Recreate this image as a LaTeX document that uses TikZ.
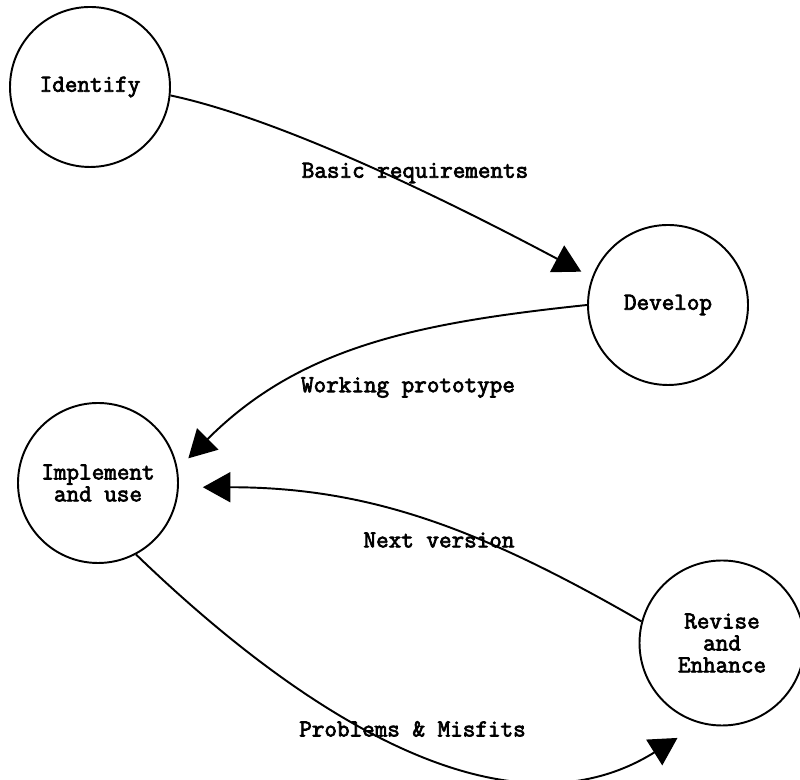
\documentclass[tikz,border=0pt]{standalone}
\usepackage{fontspec}
\newfontfamily\typewriter[FakeBold=3]{Latin Modern Mono}
\usetikzlibrary{arrows.meta}

\begin{document}
\begin{tikzpicture}[
    x=1cm,y=1cm,
    >={Triangle[length=0.55cm,width=0.6cm]},
    line width=1.1pt,
    stage/.style={
        draw,
        circle,
        line width=1.1pt,
        minimum size=3.2cm,
        align=center,
        font=\typewriter\fontsize{13.9}{12.5}\selectfont
    },
    flow/.style={
        draw=none,
        fill=none,
        align=center,
        font=\typewriter\fontsize{13.9}{12.5}\selectfont
    }
]
\useasboundingbox (0,0) rectangle (16,15.6);

% ====== 四個階段 ======
\node[stage] (identify)  at ( 1.80,13.86) {Identify};
\node[stage] (develop)   at (13.36, 9.50) {Develop};
\node[stage] (implement) at ( 1.96, 5.94) {Implement\\and use};
\node[stage, minimum size=3.3cm] (revise) at (14.44,2.74) {Revise\\and\\Enhance};

% ====== 箭頭 ======
\draw[->, shorten >=0.24cm] (identify.-6) to[out=-12,in=152,looseness=0.7] (develop.160);
\draw[->, shorten >=0.3cm] (develop.west) to[out=186,in=45] (implement.10);
\draw[->, shorten >=0.48cm] (revise.165) to[out=150,in=0] (implement.-3);
\draw[->, shorten >=0.54cm] (implement.-62) to[out=-44,in=-148] (revise.-105); % 下方長弧

% ====== 文字 ======
\node[flow] (basic)    at (8.30,12.14) {Basic requirements};
\node[flow] (working)  at (8.16, 7.85) {Working prototype};
\node[flow] (next)     at (8.78, 4.80) {Next version};
\node[flow] (problems) at (8.25, 1.02) {Problems \& Misfits};

\end{tikzpicture}
\end{document}
